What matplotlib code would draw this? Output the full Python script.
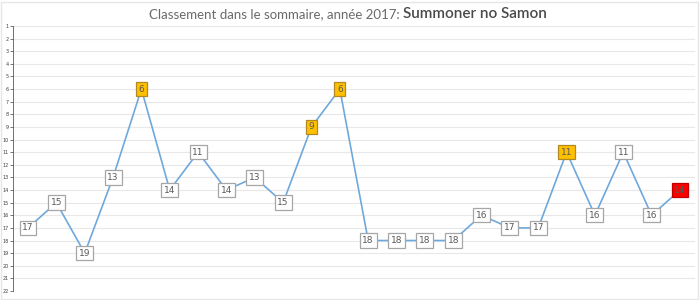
import matplotlib.pyplot as plt
from matplotlib.patches import Rectangle

# rank in the table of contents, one per issue
ranks = [17, 15, 19, 13, 6, 14, 11, 14, 13, 15, 9, 6,
         18, 18, 18, 18, 16, 17, 17, 11, 16, 11, 16, 14]
# kind of label box: "top" (gold), "normal" (white), "last" (red)
kinds = ["normal", "normal", "normal", "normal", "top", "normal", "normal", "normal",
         "normal", "normal", "top", "top", "normal", "normal", "normal", "normal",
         "normal", "normal", "normal", "top", "normal", "normal", "normal", "last"]
y_ticks = list(range(1, 23))

box_style = {
    "top": dict(fc="#ffc000", ec="#b08a20"),
    "normal": dict(fc="white", ec="#a6a6a6"),
    "last": dict(fc="#ff0000", ec="#c00000"),
}

fig = plt.figure(figsize=(7, 3), dpi=100)
ax = fig.add_axes([13 / 700, 9 / 300, 682 / 700, 265 / 300])

x = list(range(len(ranks)))
ax.plot(x, ranks, color="#6fa8dc", linewidth=1.2, zorder=2)

for i, (r, k) in enumerate(zip(ranks, kinds)):
    st = box_style[k]
    ax.text(i, r, str(r), ha="center", va="center", fontsize=6.5,
            color="#595959", zorder=3,
            bbox=dict(boxstyle="square,pad=0.3", fc=st["fc"], ec=st["ec"], lw=0.9))

ax.set_xlim(-0.53, 23.53)
ax.set_ylim(22, 1)
ax.set_yticks(y_ticks)
ax.set_yticklabels([str(t) for t in y_ticks], fontsize=3.5, color="#404040")
ax.tick_params(axis="y", length=2, width=0.5, pad=1, color="#404040")
ax.set_xticks([])
ax.grid(axis="y", color="#e8e8e8", linewidth=0.8)
ax.set_axisbelow(True)
for s in ["top", "right", "bottom"]:
    ax.spines[s].set_visible(False)
ax.spines["left"].set_color("#595959")
ax.spines["left"].set_linewidth(0.6)

# light frame round the whole figure
fig.patches.append(Rectangle((0.002, 0.005), 0.995, 0.99, transform=fig.transFigure,
                             fill=False, ec="#e6e6e6", lw=1))

fig.text(403 / 700, 0.953, "Classement dans le sommaire, année 2017: ", ha="right",
         va="center", fontsize=9.5, color="#6a6a6a", family="Lato")
fig.text(403 / 700, 0.953, "Summoner no Samon", ha="left", va="center",
         fontsize=11, color="#4a4a4a", family="Lato", fontweight="semibold")

plt.savefig("out.png", dpi=100)
